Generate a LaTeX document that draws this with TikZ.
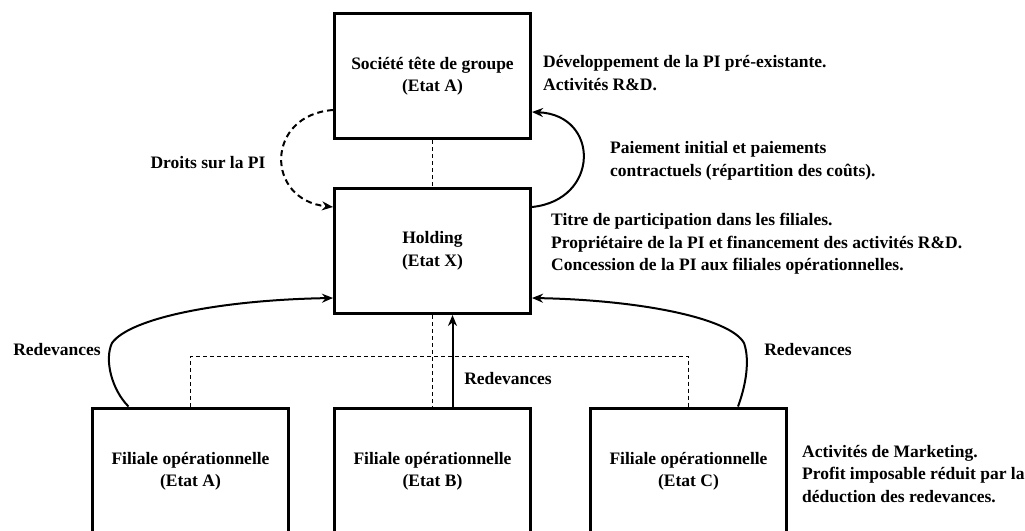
\documentclass[tikz,border=0pt]{standalone}
\usepackage{fontspec}
\setmainfont{Liberation Serif}
\usetikzlibrary{positioning}
\usetikzlibrary{arrows.meta}
\tikzset{
    entite/.style={draw, line width=3pt, minimum width=196pt, minimum height=125pt, align=center, inner sep=0pt}, % boîtes des sociétés
    flux/.style={line width=2pt, -{Stealth[length=11pt,width=9pt]}}, % flux de paiements
    lien/.style={line width=0.8pt, dash pattern=on 4pt off 3pt}, % liens de détention
    note/.style={anchor=west, align=left, inner sep=0pt} % textes explicatifs
}

\begin{document}
\begin{tikzpicture}[x=1pt, y=-1pt, font=\fontsize{17.5}{22.5}\selectfont\bfseries]

    \useasboundingbox (0,0) rectangle (1025,530);

    \node[entite] (tete) at (432.5,76) {Société tête de groupe\\(Etat A)};
    \node[entite] (holding) at (432.5,251) {Holding\\(Etat X)};

    \node[entite, minimum height=127pt] (filA) at (190.5,471.5) {Filiale opérationnelle\\(Etat A)};
    \node[entite, minimum height=127pt] (filB) at (432.5,471.5) {Filiale opérationnelle\\(Etat B)};
    \node[entite, minimum height=127pt] (filC) at (688.5,471.5) {Filiale opérationnelle\\(Etat C)};

    % liens de détention
    \coordinate (bus) at (432.5,356);
    \draw[lien] (tete.south) -- (holding.north);
    \draw[lien] (holding.south) -- (filB.north);
    \draw[lien] (filA.north) |- (bus) -| (filC.north);

    % flux
    \draw[flux, dash pattern=on 6pt off 4pt] ([yshift=-34pt]tete.west) .. controls (265,115) and (265,200) .. ([yshift=44pt]holding.west);
    \draw[flux] ([yshift=44pt]holding.east) .. controls (600,200) and (600,115) .. ([yshift=-36pt]tete.east);
    \draw[flux] ([xshift=-62pt]filA.north) .. controls (112,390) and (104,360) .. (112,343)
        .. controls (130,318) and (220,300) .. ([yshift=-47pt]holding.west);
    \draw[flux] ([xshift=20pt]filB.north) -- ([xshift=20pt]holding.south);
    \draw[flux] ([xshift=49.5pt]filC.north) .. controls (746,385) and (750,360) .. (744,343)
        .. controls (730,318) and (640,300) .. ([yshift=-47pt]holding.east);

    % étiquettes
    \node (droits) at (208,163) {Droits sur la PI};
    \node (redA) at (57,350) {Redevances};
    \node (redB) at (508,379) {Redevances};
    \node (redC) at (808,350) {Redevances};

    \node[note] (devPI) at (543,73) {Développement de la PI pré-existante.\\Activités R\&D.};
    \node[note] (paiement) at (610,161) {Paiement initial et paiements\\contractuels (répartition des coûts).};
    \node[note] (roleHold) at (551,244) {Titre de participation dans les filiales.\\Propriétaire de la PI et financement des activités R\&D.\\Concession de la PI aux filiales opérationnelles.};
    \node[note] (marketing) at (802,474) {Activités de Marketing.\\Profit imposable réduit par la\\déduction des redevances.};

\end{tikzpicture}
\end{document}
